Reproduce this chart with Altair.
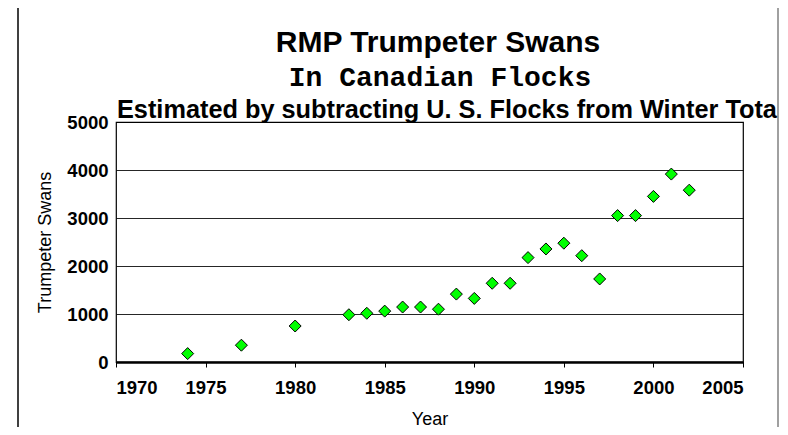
import altair as alt
import pandas as pd

years = [1974, 1977, 1980, 1983, 1984, 1985, 1986, 1987, 1988, 1989, 1990, 1991,
         1992, 1993, 1994, 1995, 1996, 1997, 1998, 1999, 2000, 2001, 2002]
swans = [175, 350, 750, 985, 1015, 1060, 1145, 1145, 1100, 1415, 1325, 1640,
         1640, 2175, 2355, 2475, 2215, 1730, 3050, 3050, 3450, 3915, 3580]
x_ticks = [1970, 1975, 1980, 1985, 1990, 1995, 2000, 2005]
y_ticks = [0, 1000, 2000, 3000, 4000, 5000]

title_main = "RMP Trumpeter Swans"
title_sub = "In Canadian Flocks"
title_third = "Estimated by subtracting U. S. Flocks from Winter Tota"

df = pd.DataFrame({"Year": years, "Swans": swans})

W, H = 627, 240
SANS = "Liberation Sans"
MONO = "Liberation Mono"

points = alt.Chart(df).mark_point(
    shape="diamond", size=144, filled=True, fill="#00FF00",
    stroke="black", strokeWidth=1, opacity=1
).encode(
    x=alt.X("Year:Q",
            scale=alt.Scale(domain=[1970, 2005], nice=False, zero=False),
            axis=alt.Axis(values=x_ticks, format="d", grid=False,
                          title="Year", titleFont=SANS, titleFontSize=18,
                          titleFontWeight="normal", titleColor="black",
                          titleY=62, titleBaseline="alphabetic",
                          labelFont=SANS, labelFontSize=18.5, labelFontWeight="bold",
                          labelColor="black", labelPadding=11,
                          tickSize=5, tickColor="black", tickWidth=1,
                          domainColor="black", domainWidth=2.5)),
    y=alt.Y("Swans:Q",
            scale=alt.Scale(domain=[0, 5000], nice=False),
            axis=alt.Axis(values=y_ticks, format="d", grid=True,
                          gridColor="black", gridWidth=1, gridOpacity=0.85,
                          ticks=False, domain=False,
                          title="Trumpeter Swans", titleFont=SANS, titleFontSize=18,
                          titleFontWeight="normal", titleColor="black",
                          titleX=-71, titleY=H / 2, titleAngle=-90,
                          titleAlign="center", titleBaseline="middle",
                          labelFont=SANS, labelFontSize=18.5, labelFontWeight="bold",
                          labelColor="black", labelPadding=8)),
)

t1 = alt.Chart(pd.DataFrame({"t": [title_main]})).mark_text(
    font=SANS, fontSize=30, fontWeight="bold", color="black",
    align="center", baseline="alphabetic"
).encode(text="t:N", x=alt.value(322), y=alt.value(-70))

t2 = alt.Chart(pd.DataFrame({"t": [title_sub]})).mark_text(
    font=MONO, fontSize=28, fontWeight="bold", color="black",
    align="center", baseline="alphabetic"
).encode(text="t:N", x=alt.value(324), y=alt.value(-36))

t3 = alt.Chart(pd.DataFrame({"t": [title_third]})).mark_text(
    font=SANS, fontSize=25.3, fontWeight="bold", color="black",
    align="left", baseline="alphabetic"
).encode(text="t:N", x=alt.value(1), y=alt.value(-4))

frame_top = alt.Chart(pd.DataFrame({"a": [0]})).mark_rule(
    color="#808080", strokeWidth=2
).encode(x=alt.value(-98), x2=alt.value(662), y=alt.value(-115))
frame_left = alt.Chart(pd.DataFrame({"a": [0]})).mark_rule(
    color="black", strokeWidth=1.5
).encode(x=alt.value(-98), y=alt.value(-115), y2=alt.value(320))
frame_right = alt.Chart(pd.DataFrame({"a": [0]})).mark_rule(
    color="#808080", strokeWidth=1.5
).encode(x=alt.value(662), y=alt.value(-115), y2=alt.value(320))

chart = alt.layer(frame_top, frame_left, frame_right, points, t1, t2, t3).properties(
    width=W, height=H,
    autosize=alt.AutoSizeParams(type="none"),
    padding={"left": 108, "top": 114, "right": 37, "bottom": 65},
    background="white",
).configure_view(stroke="black", strokeWidth=1.2)

chart.save("out.html", embed_options={"renderer": "svg", "actions": False})
